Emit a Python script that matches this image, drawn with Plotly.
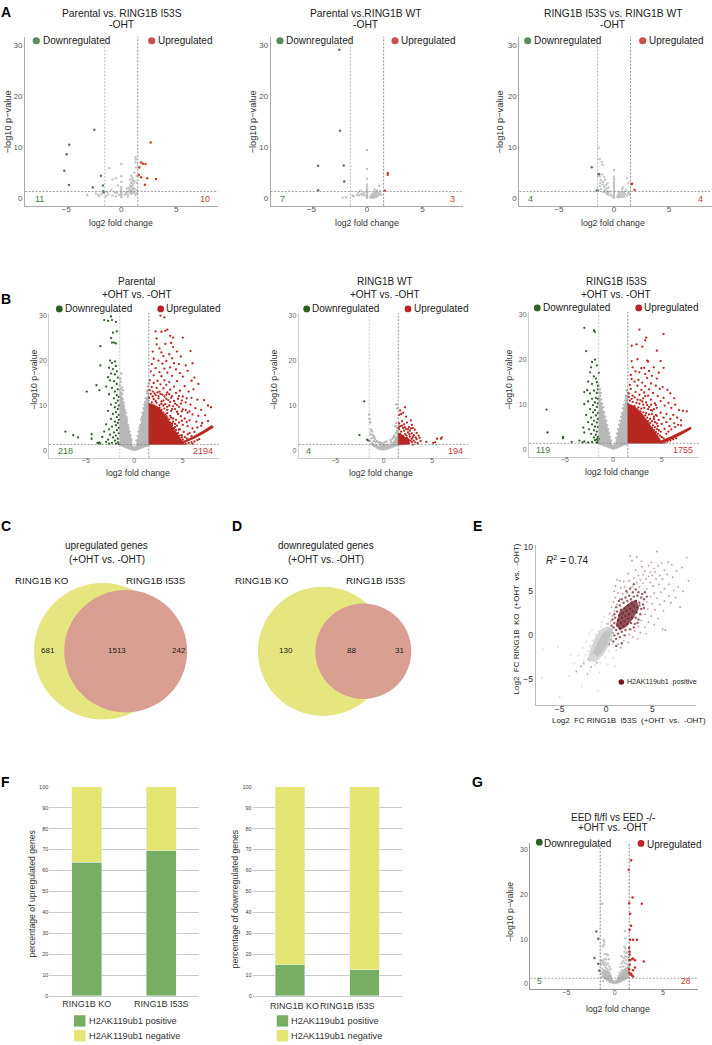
import plotly.graph_objects as go

W = 712
H = 1045
FONT = "Liberation Sans, Arial, sans-serif"

# --- volcano data (log2 fold change, -log10 p) ---
a1_down = [(-2.45,13.4),(-4.73,10.45),(-4.97,8.6),(-5.18,5.4),(-4.76,2.6),(-1.85,4.4),(-2.6,2.1),(-1.67,2.5),(-1.65,1.35),(-1.6,1.2)]
a1_up = [(2.67,10.9),(1.79,7.0),(1.97,6.75),(2.2,6.7),(1.64,6.0),(1.6,4.55),(1.8,4.1),(2.36,3.9),(3.15,3.77),(2.15,2.65)]
a1_ns = [(-3.1,0.6),(-2.3,0.9),(-2.1,0.6),(-2,0.4),(-1.8,0.8),(-1.6,1.1),(-1.4,0.4),(-1.3,1.2),(-1.2,0.7),(-1.1,5.9),(-0.8,3.6),(-0.9,1.6),(-0.8,0.5),(-0.6,1.1),(-0.5,0.4),(-0.4,1.0),(-0.3,2.5),(-0.2,0.6),(-0.5,3.9),(0,0.2),(0,0.5),(0,0.8),(0,1.1),(0,1.4),(0,1.8),(0,2.2),(0,3.2),(0,4.3),(0,6.7),(0.3,0.6),(0.4,0.9),(0.5,1.2),(0.5,1.9),(0.6,0.7),(0.7,1.4),(0.7,2.0),(0.8,1.1),(0.8,1.7),(0.8,2.5),(0.8,3.7),(0.9,0.8),(0.9,1.4),(0.9,2.2),(0.9,3.0),(0.9,4.4),(1,1.0),(1,1.7),(1,2.5),(1,3.4),(1,4.0),(1.1,1.3),(1.1,2.0),(1.1,2.9),(1.1,3.6),(1.2,1.0),(1.2,1.8),(1.2,3.3),(1.2,5.0),(1.3,7.6),(1.3,8.0),(1.3,7.0),(1.35,6.0),(1.4,4.4),(1.4,3.0),(1.4,1.6),(1.45,1.0),(1.3,0.6),(0.6,0.3)]

a2_down = [(-2.5,29.1),(-2.44,13.2),(-4.4,6.35),(-2.1,6.4),(-2.05,3.25),(-4.4,1.55)]
a2_up = [(1.87,4.95),(1.87,4.6),(1.6,1.45)]
a2_ns = [(-2.2,0.1),(-1.9,0.2),(-1.3,0.5),(-1.2,0.4),(-0.9,0.6),(-0.8,1.0),(-0.7,0.5),(-0.6,1.5),(-0.5,0.8),(-0.4,0.6),(-0.3,1.0),(-0.2,0.5),(0,0.1),(0,0.3),(0,0.5),(0,0.7),(0,0.9),(0,1.1),(0,1.3),(0,1.6),(0,1.9),(0,2.3),(0,2.7),(0,3.8),(0,5.7),(0,9.45),(0.3,0.2),(0.35,0.4),(0.4,0.1),(0.4,0.6),(0.45,0.3),(0.5,0.2),(0.5,0.5),(0.5,0.8),(0.55,0.3),(0.6,0.1),(0.6,0.5),(0.6,0.9),(0.65,0.3),(0.7,0.6),(0.7,1.2),(0.7,1.7),(0.75,0.2),(0.8,0.4),(0.8,0.8),(0.85,1.1),(0.9,0.3),(0.9,0.6),(0.9,1.5),(1.0,0.5),(1.0,1.0),(1.1,0.7),(1.1,2.4),(1.2,0.9),(1.2,1.4),(1.3,0.6)]

a3_down = [(-2.03,6.05),(-1.42,4.7),(-1.36,4.75),(-1.46,1.5),(-1.58,1.5)]
a3_up = [(1.64,2.85),(1.6,2.8),(1.88,1.6)]
a3_ns = [(-1.4,9.9),(-1.3,7.7),(-1.1,7.1),(-1.05,6.5),(-1.3,4.3),(-1.2,3.6),(-1.25,3.0),(-1.3,2.4),(-1.2,1.8),(-1.1,4.7),(-1.0,3.2),(-1.05,2.7),(-0.95,1.2),(-0.9,4.2),(-0.9,2.2),(-0.85,1.6),(-0.8,3.6),(-0.75,2.6),(-0.7,1.1),(-0.7,1.9),(-0.65,0.8),(-0.6,2.9),(-0.6,1.4),(-0.55,1.0),(-0.5,2.1),(-0.5,0.6),(-0.4,1.3),(-0.3,0.7),(-0.2,0.4),(0,0.1),(0,0.3),(0,0.6),(0,0.9),(0,1.2),(0,1.5),(0,1.8),(0,2.1),(0,2.4),(0,2.8),(0,3.2),(0,3.7),(0,4.2),(0,5.5),(0.3,0.3),(0.35,0.6),(0.4,0.2),(0.45,0.9),(0.5,0.4),(0.5,1.2),(0.55,0.7),(0.6,0.2),(0.65,0.5),(0.7,1.0),(0.75,1.7),(0.8,0.3),(0.8,2.1),(0.85,0.7),(0.9,1.2),(0.95,0.4),(1.0,0.8),(1.1,1.5),(1.15,3.95),(1.2,0.5),(1.3,1.0),(1.3,3.0),(1.4,0.7)]

b1_down = [(-7.1,4.2),(-6.3,3.4),(-5.8,2.9),(-4.4,3.6),(-4.4,2.6),(-3.8,1.7),(-3.7,1.6),(-3.6,1.8),(-3.5,1.5),(-4.9,13.1),(-3.9,14.5),(-3.6,13.4),(-3.5,18.9),(-3.5,23.2),(-3.1,29),(-2.7,28.8),(-2.4,29.8),(-2.3,29),(-1.9,28.6),(-1.8,26.5),(-2.2,26.2),(-2.4,25),(-2.3,24),(-2.1,24),(-1.9,23.8),(-2.5,20),(-2.3,19.5),(-2,19.8),(-1.9,18.8),(-2.6,18.4),(-2.2,18.1),(-1.8,17.6),(-2.4,17.1),(-2,16.9),(-2.7,16.3),(-1.7,16.2),(-2.5,15.6),(-2.1,15.4),(-1.8,14.8),(-2.9,14.2),(-2.3,13.9),(-1.7,13.6),(-2.0,13.1),(-2.6,12.5),(-1.8,12.3),(-1.6,11.9),(-2.1,11.6),(-1.7,11.1),(-1.9,10.6),(-2.4,10.2),(-1.6,10.0),(-2.0,9.6),(-1.7,9.2),(-2.7,8.8),(-1.9,8.5),(-2.2,8.1),(-1.6,7.9),(-1.8,7.4),(-2.4,7.0),(-1.6,6.8),(-2.0,6.4),(-1.7,6.1),(-2.9,5.8),(-1.9,5.6),(-2.3,5.3),(-1.6,5.0),(-2.6,4.7),(-1.8,4.5),(-3.1,4.2),(-2.1,4.0),(-1.6,3.8),(-2.5,3.5),(-1.9,3.3),(-3.3,3.0),(-2.2,2.9),(-1.7,2.6),(-2.7,2.4),(-2.0,2.2),(-2.9,1.9),(-1.7,1.8),(-2.3,1.7),(-1.9,1.5),(-2.6,1.5),(-1.6,1.4)]
b1_up = [(2.7,30),(3.1,29.6),(2.2,26.5),(2.8,26.4),(3.2,26.6),(3.4,26.9),(3.7,25.5),(2.3,24.9),(4.0,25.1),(5.0,25.1),(2.3,23.6),(3.2,23.7),(3.8,23.9),(2.6,22.7),(1.9,22),(2.8,21.8),(4.0,23),(3.0,21),(3.6,21.4),(4.4,22),(2.0,20.4),(2.5,20),(3.3,19.9),(3.9,20.5),(4.8,20.9),(5.8,22.1),(1.8,19.2),(2.9,19.3),(4.1,19.4),(4.6,19.2),(5.3,18.9),(6.0,19.4),(2.2,18.3),(3.1,18.2),(3.7,18.5),(4.3,18.0),(1.7,17.6),(2.6,17.4),(3.4,17.3),(4.7,17.2),(5.5,17.7),(2.0,16.7),(2.8,16.5),(3.9,16.6),(5.0,16.4),(1.6,15.6),(2.4,15.5),(3.1,15.6),(3.6,15.2),(4.4,15.4),(5.9,15.5),(6.2,16.2),(2.0,15.0),(2.7,14.7),(3.3,14.6),(4.1,14.2),(5.2,14.3),(6.6,14.8),(1.8,14.1),(2.3,13.9),(3.0,13.8),(3.7,13.5),(4.7,13.3),(5.6,13.1),(2.6,13.1),(3.4,12.9),(4.3,12.8),(6.1,13.6),(2.1,12.7),(2.9,12.4),(3.9,12.1),(5.0,12.0),(5.9,11.7),(3.3,11.5),(4.5,11.5),(6.5,11.3),(3.7,10.8),(4.2,10.4),(5.3,10.7),(5.8,10.2),(7.2,11.2),(7.6,10.0),(4.6,9.7),(5.0,9.1),(6.3,9.4),(6.9,9.0),(7.9,9.6),(3.9,9.2),(4.4,8.6),(5.5,8.4),(6.0,8.0),(6.6,7.7),(7.3,7.8),(4.8,7.6),(5.2,7.1),(5.7,6.7),(6.4,6.4),(7.0,6.1),(7.6,6.5),(4.3,6.8),(4.6,6.2),(5.0,5.7),(5.5,5.4),(6.0,4.9),(3.9,6.0),(4.2,5.2),(4.7,4.7),(5.1,4.1),(5.5,3.6),(3.7,7.7),(4.0,7.1),(3.4,9.7),(2.8,10.9)]
b1_up_fringe = [(1.6,13.4),(1.9,13.1),(2.4,12.9),(1.7,12.6),(2.2,12.3),(2.7,12.6),(3.1,12.0),(1.55,11.7),(2.0,11.4),(2.5,11.6),(3.0,11.1),(3.5,11.2),(3.8,11.7),(4.1,11.0),(1.8,10.7),(2.3,10.6),(2.8,10.4),(3.2,10.3),(3.6,10.0),(4.0,9.8),(4.4,10.1),(4.8,10.4),(1.6,9.9),(2.1,9.7),(2.6,9.5),(3.1,9.3),(3.4,9.0),(3.8,8.8),(4.2,9.2),(4.5,8.1),(4.9,8.7),(5.3,9.0),(5.7,8.7),(3.2,8.0),(3.4,7.3),(3.6,6.9),(3.0,8.4),(2.8,9.0),(2.4,9.4),(2.0,9.9),(1.7,9.7),(3.7,6.2),(3.9,5.6),(4.1,5.0),(4.3,4.5),(4.5,3.9),(4.7,3.3),(4.9,2.9),(5.0,2.4),(3.4,8.3),(3.8,7.3),(4.0,6.4),(4.2,5.9),(4.4,5.5),(4.6,4.6),(4.9,3.4),(5.2,3.0),(5.4,2.7),(5.7,3.9),(5.9,3.2),(6.2,4.1),(6.5,5.1),(6.9,5.5),(3.3,7.6),(3.5,6.3),(3.6,5.7),(3.8,5.1),(4.0,4.4),(4.2,3.8),(4.4,3.2),(4.6,2.7),(5.3,1.5),(5.6,1.6),(5.9,1.8),(6.2,2.0),(6.5,2.3),(6.7,2.5),(5.0,1.6),(6.0,1.5),(4.9,6.6),(5.4,6.3),(3.0,10.0),(2.2,11.0),(2.6,10.1),(1.9,12.0),(2.5,12.1),(3.3,12.4),(3.6,12.5),(4.6,12.1),(4.9,11.1),(5.4,11.6)]
b1_ns_shape = [(-1.5,13.2),(-1.3,12.2),(-1.0,9.2),(-0.7,6.0),(-0.45,3.2),(-0.2,1.2),(0,0.7),(0.2,1.2),(0.45,3.5),(0.7,6.4),(1.0,9.3),(1.3,11.8),(1.5,12.9),(1.5,1.1),(1.2,0.9),(0.8,0.5),(0.4,0.15),(0,-0.1),(-0.4,0.15),(-0.8,0.5),(-1.2,0.9),(-1.5,1.1)]
b1_ns_fuzz = [(-1.45,13.6),(-1.4,12.9),(-1.25,12.6),(-1.2,11.5),(-1.1,10.6),(-1.05,9.9),(-0.95,9.0),(-0.9,8.4),(-0.8,7.4),(-0.75,6.8),(-0.65,5.6),(-0.6,5.0),(-0.5,4.2),(-0.4,3.4),(-0.3,2.4),(-1.3,14.0),(-1.2,13.4),(1.45,13.4),(1.35,12.7),(1.2,11.6),(1.15,10.7),(1.05,10.2),(0.95,9.4),(0.85,8.3),(0.8,7.5),(0.7,6.9),(0.6,5.6),(0.55,5.0),(0.45,4.2),(0.35,3.2),(0.25,2.2),(1.4,14.2),(1.3,13.2),(-1.5,14.5),(-1.4,15.3),(1.5,14.9),(-1.45,16.0),(-1.35,17.1)]
b1_up_shape = [(1.5,10.5),(2.0,10.2),(2.6,9.4),(3.1,8.0),(3.5,6.8),(3.9,5.4),(4.3,4.1),(4.7,2.9),(5.0,2.1),(5.2,1.3),(1.5,1.3)]
b1_ray = [(4.6,1.6),(5.2,2.2),(6.0,3.0),(7.0,4.2),(8.0,5.6),(8.15,5.1),(7.0,3.6),(6.0,2.5),(5.2,1.7),(4.8,1.4)]

b2_down = [(-2.0,10.9),(-2.5,3.4),(-1.7,2.4),(-1.6,2.2)]
b2_up = [(2.2,9.6),(1.7,8.9),(2.0,8.4),(1.8,8.1),(1.6,7.9),(2.3,7.5),(2.8,6.7),(1.9,6.5),(2.4,6.2),(1.6,6.0),(2.1,5.8),(2.9,5.7),(3.0,5.0),(1.7,5.4),(2.6,5.2),(2.0,5.0),(2.3,4.8),(1.6,4.7),(3.2,4.6),(2.7,4.4),(2.1,4.4),(3.4,3.9),(1.8,4.2),(2.5,4.0),(2.9,3.8),(2.2,3.6),(3.1,3.4),(3.6,3.3),(2.7,3.1),(2.0,3.2),(3.3,2.9),(2.4,2.8),(3.7,2.8),(2.9,2.6),(3.4,2.5),(2.6,2.3),(3.1,2.2),(1.8,2.5),(2.2,2.2),(3.8,2.1),(2.9,1.9),(2.4,1.6),(2.0,1.5),(3.0,1.3),(4.4,1.9),(5.1,1.7),(5.3,1.8),(5.5,2.6),(5.9,2.6),(6.0,2.9),(1.55,5.1),(1.9,5.5),(2.2,5.2),(2.5,4.7),(2.8,4.9),(1.7,3.7),(2.35,3.3),(2.65,3.6),(3.0,3.0),(1.6,3.3),(1.9,2.9),(2.15,2.7),(2.5,2.5),(2.75,2.2),(3.25,1.8),(3.5,1.6)]
b2_ns = [(-1.5,8.0),(-1.45,7.0),(-1.4,6.2),(-1.3,4.6),(-1.2,4.2),(-1.35,3.6),(-1.1,3.4),(-1.0,3.0),(-0.9,2.6),(-1.25,2.7),(-1.4,2.1),(-0.7,2.1),(-0.5,1.8),(-0.3,1.7),(1.3,10.2),(1.4,9.4),(1.3,6.1),(1.2,5.4),(1.4,5.0),(1.1,3.3),(1.0,3.0),(0.9,2.6),(0.7,2.3),(0.3,2.0),(-1.2,1.6),(-1.0,2.1),(-0.8,1.9),(-0.4,1.4),(-0.15,1.6),(0.1,1.9),(0.45,1.3),(0.75,1.8),(1.25,3.9),(1.4,4.4),(1.45,3.7),(1.2,2.9)]
b2_ns_shape = [(-1.2,1.5),(-0.9,1.4),(-0.5,1.0),(-0.2,1.2),(0,1.6),(0.2,1.4),(0.5,1.0),(0.8,1.4),(1.1,2.2),(1.35,3.0),(1.5,4.0),(1.5,1.2),(1.1,0.8),(0.6,0.35),(0,0.05),(-0.5,0.2),(-1.0,0.8),(-1.4,1.4)]
b2_up_shape = [(1.5,1.2),(1.5,3.8),(1.9,3.5),(2.3,2.8),(2.6,2.2),(2.7,1.4),(2.0,1.2)]

b3_down = [(-6.9,8.8),(-6.8,3.7),(-5.2,2.7),(-5.2,2.4),(-4.3,1.6),(-3.5,1.9),(-3.2,1.5),(-3.0,1.7),(-3.0,27),(-2.8,21.8),(-2.0,26.4),(-1.9,26.1),(-1.9,19.9),(-2.2,19.4),(-2.3,18.2),(-1.7,18.6),(-2.4,17.1),(-1.5,17.0),(-2.0,16.2),(-1.8,15.7),(-2.6,15.0),(-1.7,14.9),(-2.2,14.5),(-1.6,14.1),(-2.7,13.1),(-1.6,13.3),(-2.0,13.0),(-3.0,12.7),(-2.4,12.4),(-1.7,12.5),(-1.8,11.4),(-2.2,11.2),(-1.6,11.2),(-2.6,10.6),(-1.9,10.4),(-3.0,10.0),(-1.6,10.2),(-2.1,9.8),(-1.7,9.4),(-2.4,8.9),(-1.9,8.7),(-2.1,8.2),(-1.6,8.0),(-2.8,7.6),(-1.8,7.5),(-2.3,7.0),(-1.6,6.7),(-2.0,6.3),(-2.6,6.0),(-1.7,5.9),(-2.2,5.5),(-1.9,5.0),(-1.6,4.9),(-3.1,4.8),(-2.5,4.4),(-2.0,4.2),(-1.7,3.9),(-3.0,3.7),(-2.3,3.4),(-1.8,3.2),(-2.0,2.6),(-1.6,2.7),(-1.7,2.2),(-1.9,2.0),(-1.6,1.8),(-1.75,1.5),(-2.2,1.6),(-2.6,1.5),(-1.6,1.4),(-1.5,2.3)]
b3_up = [(2.7,26.6),(5.2,25.6),(3.4,24.8),(3.3,24.2),(1.9,23),(2.4,23.3),(3.0,22.8),(4.5,21.9),(1.9,19.6),(2.5,20),(3.5,19.7),(3.6,19.5),(4.9,19.6),(2.0,18.2),(2.9,18),(3.2,18.1),(4.2,18.2),(5.2,18.1),(2.3,17.3),(2.7,17.1),(3.7,17.4),(4.7,17.0),(1.8,16.5),(3.3,16.7),(4.0,16.3),(1.9,15.6),(2.6,15.4),(3.5,15.8),(4.5,15.7),(2.2,15.0),(3.0,14.8),(3.9,14.6),(1.7,14.3),(2.5,14.1),(3.3,14.0),(4.4,14.1),(5.1,13.8),(1.8,13.4),(2.9,13.2),(3.7,13.3),(4.8,13.4),(5.6,13.2),(2.3,12.7),(3.2,12.6),(4.1,12.5),(5.9,12.4),(2.7,12.1),(3.6,11.9),(4.6,11.8),(5.2,11.4),(6.3,11.3),(3.1,11.3),(3.9,11.0),(4.9,10.7),(5.7,10.3),(3.4,10.4),(4.3,10.2),(5.3,9.7),(6.4,9.9),(6.0,9.2),(3.7,9.4),(4.5,9.2),(6.8,8.7),(7.2,8.5),(4.0,8.6),(4.9,8.1),(5.5,7.8),(6.2,7.6),(6.6,7.0),(7.6,8.4),(4.4,7.6),(5.2,7.0),(5.9,6.7),(7.0,6.4),(4.7,6.5),(5.5,6.0),(6.3,5.8),(4.2,6.7),(5.0,5.6),(5.8,5.1),(4.6,5.1),(5.3,4.5),(4.9,3.9),(3.9,9.9),(3.0,10.6),(1.6,12.4),(2.0,11.9)]
b3_up_fringe = [(1.6,11.6),(1.9,11.2),(2.2,11.5),(2.5,11.0),(2.8,10.9),(3.3,11.8),(1.7,10.8),(2.0,10.5),(2.4,10.3),(2.7,10.1),(3.1,9.9),(3.5,9.8),(1.55,10.0),(1.8,9.7),(2.2,9.6),(2.6,9.3),(2.9,9.0),(3.2,9.2),(3.6,8.9),(3.9,8.7),(4.2,8.9),(4.4,9.8),(2.0,9.1),(2.4,8.8),(2.8,8.4),(3.1,8.2),(3.4,8.0),(3.7,7.7),(4.0,7.8),(4.2,7.2),(4.5,7.4),(3.3,7.5),(3.5,7.0),(3.8,6.7),(4.0,6.2),(4.3,6.0),(4.5,5.7),(3.6,6.3),(3.8,5.8),(4.1,5.3),(4.3,4.9),(4.5,4.5),(4.7,4.2),(4.0,4.7),(4.2,4.2),(4.4,3.8),(4.6,3.4),(4.8,3.0),(5.0,2.7),(5.2,2.4),(5.5,3.4),(5.7,3.9),(6.0,4.4),(6.4,4.9),(6.7,5.4),(7.0,5.3),(5.3,1.5),(5.6,1.7),(5.9,1.9),(6.2,2.2),(6.5,2.4),(5.1,1.7),(5.4,2.0)]
b3_ns_shape = [(-1.5,11.8),(-1.3,10.6),(-1.0,8.0),(-0.7,5.4),(-0.45,3.0),(-0.2,1.2),(0,0.8),(0.2,1.2),(0.45,3.4),(0.7,5.8),(1.0,8.4),(1.3,10.8),(1.5,11.2),(1.5,1.1),(1.2,0.9),(0.8,0.5),(0.4,0.2),(0,-0.1),(-0.4,0.2),(-0.8,0.5),(-1.2,0.9),(-1.5,1.1)]
b3_ns_fuzz = [(-1.45,12.6),(-1.35,11.8),(-1.25,11.1),(-1.15,10.1),(-1.05,9.3),(-0.95,8.2),(-0.85,7.2),(-0.75,6.3),(-0.65,5.3),(-0.55,4.4),(-0.45,3.6),(-0.35,2.7),(-0.25,1.9),(-1.4,13.3),(-1.3,12.5),(-1.5,14.1),(1.45,11.9),(1.35,11.4),(1.25,10.9),(1.1,9.8),(1.0,9.1),(0.9,8.0),(0.8,7.2),(0.7,6.3),(0.6,5.4),(0.5,4.4),(0.4,3.5),(0.3,2.5),(1.5,12.6),(1.4,13.1),(1.3,11.9)]
b3_up_shape = [(1.5,10.0),(2.0,9.7),(2.5,9.0),(3.0,7.8),(3.5,6.3),(4.0,4.7),(4.5,3.1),(4.9,2.0),(5.2,1.3),(1.5,1.3)]
b3_ray = [(4.7,1.5),(5.3,2.2),(6.0,2.8),(7.0,3.8),(8.0,4.9),(8.05,4.5),(7.0,3.2),(6.0,2.2),(5.3,1.6),(4.9,1.3)]

g_down = [(-1.9,11.7),(-1.7,10.1),(-2.1,5.8),(-1.7,4.5),(-1.6,3.0)]
g_up = [(1.7,27.6),(1.45,25.5),(1.85,19.3),(1.5,18),(2.8,17.9),(1.6,15.7),(1.7,13),(1.55,12.1),(1.6,9.9),(1.9,9.9),(2.3,9.9),(1.5,8.1),(1.55,7.2),(1.55,6.6),(1.5,5.4),(1.6,5.3),(1.8,5.6),(1.9,5.7),(2.1,5.3),(3.0,5.0),(1.55,4.3),(2.1,3.7),(1.5,3.3),(1.9,3.1),(1.5,2.5),(1.7,2.3),(1.6,2.1),(1.8,1.9),(1.9,1.7)]
g_ns = [(-1.3,17.9),(-1.15,9.9),(-1.1,9.5),(-1.1,8.9),(-1.2,8.4),(-1.0,6.7),(-0.8,6.6),(-0.7,6.4),(-1.4,5.3),(-1.2,5.2),(-1.05,5.6),(-0.9,5.5),(-0.6,5.5),(-1.4,4.3),(-1.3,3.4),(-1.4,2.4),(-1.3,1.6),(-1.2,0.7),(1.05,11.8),(1.0,8.3),(1.1,7.9),(1.0,7.2),(1.2,6.9),(0.7,6.2),(1.1,10.2),(-1.35,4.9),(-1.2,4.6),(-1.1,4.2),(-1.0,4.8),(-0.95,3.7),(-0.85,4.3),(-0.75,3.4),(-0.7,4.6),(-0.65,2.9),(-0.55,3.9),(-0.5,2.4),(-0.45,3.3),(-0.4,1.8),(-1.25,2.8),(-1.1,3.1),(-0.95,2.4),(-0.8,2.1),(-1.15,1.9),(0.5,2.6),(0.6,3.8),(0.7,4.6),(0.75,3.1),(0.85,5.1),(0.9,3.9),(0.95,5.8),(1.05,4.7),(1.1,6.2),(1.15,5.3),(1.25,4.4),(1.3,5.9),(1.35,7.2),(1.4,6.1),(1.45,5.1),(0.45,1.9),(0.35,1.4)]
g_ns_shape = [(-1.2,3.0),(-0.9,3.2),(-0.6,2.6),(-0.4,1.6),(-0.2,0.9),(0,0.7),(0.2,0.9),(0.4,1.4),(0.6,2.4),(0.9,3.2),(1.2,3.8),(1.45,4.2),(1.45,1.4),(1.0,0.9),(0.5,0.3),(0,0.05),(-0.5,0.3),(-1.0,1.0),(-1.3,1.8)]

# --- panel E ---
e_pos = [(5.5,9.5),(2.6,9.0),(3.3,8.9),(8.7,8.8),(2.8,8.5),(3.8,8.4),(4.9,8.3),(6.0,8.2),(6.7,8.3),(3.9,7.8),(4.6,7.9),(5.2,7.6),(5.6,7.9),(7.1,8.0),(8.2,7.7),(3.2,7.4),(4.2,7.3),(4.8,7.2),(5.3,7.2),(6.3,7.4),(7.6,7.3),(2.4,7.0),(3.5,6.8),(4.0,6.9),(4.6,6.7),(5.0,6.8),(5.8,6.8),(6.6,6.9),(3.0,6.5),(3.7,6.3),(4.3,6.4),(5.4,6.4),(6.1,6.4),(7.2,6.6),(1.2,6.3),(1.5,6.2),(1.9,6.1),(2.5,6.2),(8.9,6.2),(3.3,6.0),(4.0,5.9),(4.8,6.0),(5.1,5.6),(5.7,5.8),(6.8,5.8),(7.8,5.5),(1.0,5.6),(1.6,5.4),(2.0,5.5),(2.8,5.5),(3.6,5.5),(4.4,5.3),(6.3,5.3),(7.3,5.1),(8.3,5.0),(0.9,5.0),(1.3,4.8),(1.8,4.7),(2.3,4.8),(5.2,4.8),(5.9,4.9),(6.8,4.5),(7.5,4.3),(1.0,4.3),(1.5,4.1),(4.8,4.4),(5.5,4.2),(6.3,3.9),(7.0,3.7),(0.8,3.8),(1.2,3.5),(4.4,3.8),(5.0,3.6),(5.8,3.5),(8.0,3.2),(0.6,3.2),(0.9,2.8),(4.5,3.0),(5.3,2.9),(6.2,2.8),(0.4,2.5),(0.7,2.2),(4.2,2.4),(4.9,2.2),(5.6,1.9),(0.5,1.6),(3.8,1.7),(4.6,1.5),(5.2,1.2),(0.2,1.3),(0.3,0.8),(3.5,1.0),(4.2,0.9),(6.1,0.7),(6.4,0.6),(3.1,0.5),(3.7,0.3),(4.3,0.2),(0.1,-0.2),(2.5,0.1),(2.9,-0.2),(3.4,-0.4),(1.9,-0.6),(2.4,-0.8),(1.3,-1.0),(1.6,-1.4),(-0.9,-1.2),(-1.5,-2.1),(-1.9,-2.7),(-2.4,-3.2),(-2.7,-3.5),(-3.2,-4.1),(-0.6,-2.0),(-1.0,-3.1),(-1.6,-3.6),(-2.0,-4.4)]
e_pos_dense = [(1.4,3.9),(1.7,4.1),(2.1,4.3),(2.5,4.5),(2.9,4.9),(3.2,5.2),(3.5,4.9),(3.9,4.7),(4.2,4.9),(1.1,3.2),(1.5,3.4),(1.9,3.7),(2.3,3.9),(2.7,4.1),(3.0,4.4),(3.4,4.5),(3.8,4.3),(4.1,4.1),(4.4,4.4),(0.9,2.4),(1.2,2.7),(1.6,2.9),(2.0,3.1),(2.4,3.4),(2.8,3.6),(3.2,3.9),(3.6,3.7),(4.0,3.5),(0.7,1.8),(1.0,2.0),(1.4,2.3),(1.8,2.5),(2.2,2.8),(2.6,3.0),(3.0,3.3),(3.4,3.2),(3.8,3.0),(4.1,3.1),(0.6,1.1),(0.9,1.4),(1.3,1.7),(1.7,2.0),(2.1,2.2),(2.5,2.4),(2.9,2.7),(3.3,2.6),(3.7,2.4),(0.5,0.6),(0.8,0.9),(1.2,1.1),(1.6,1.4),(2.0,1.6),(2.4,1.9),(2.8,2.0),(3.2,2.0),(3.5,1.8),(0.7,0.3),(1.1,0.6),(1.5,0.8),(1.9,1.1),(2.3,1.3),(2.7,1.4),(3.1,1.3),(3.4,1.4),(0.9,0.0),(1.3,0.2),(1.7,0.4),(2.1,0.6),(2.6,0.7),(3.0,0.9),(1.1,-0.4),(1.5,-0.2),(2.0,0.0),(0.5,-0.5),(0.8,-0.7),(1.7,-0.9),(3.6,3.4),(2.2,5.0),(2.6,5.3),(3.0,5.8),(1.1,-1.2),(0.3,-1.0)]
e_neg = [(-6.8,-1.6),(-5.2,-1.3),(-6.9,-4.8),(-5.0,-7.0),(-2.6,-5.8),(-0.9,-6.3),(-3.4,-3.2),(-3.0,-2.3),(-2.5,-1.4),(-2.1,-0.7),(-1.8,0.2),(-1.5,0.6),(-0.4,1.5),(-0.2,2.1),(0.4,2.3),(-3.8,-2.2),(-1.7,-4.0),(-0.7,-4.2),(0.2,-3.3),(0.8,-2.6),(1.1,-1.7),(-4.0,-4.6),(1.0,-3.5),(-2.4,-2.9),(-2.2,-2.2),(-1.9,-1.8),(-1.7,-1.2),(-1.4,-0.6),(-1.1,0.1),(-0.8,0.5),(-0.5,1.0),(0.0,1.3),(0.5,1.3),(0.9,0.8),(1.0,-0.4),(0.7,-1.0),(0.3,-1.8),(-0.1,-2.5),(-0.6,-3.1),(-1.2,-3.4),(-1.8,-3.0)]
e_pos_core = [(1.1,1.2),(1.5,2.7),(2.0,3.2),(2.7,3.8),(3.3,4.0),(3.5,3.0),(2.9,1.9),(2.2,1.0),(1.5,0.6)]
e_neg_outer = [(-2.0,-2.8),(-1.6,-1.4),(-1.1,-0.2),(-0.6,0.6),(0.1,1.0),(0.7,0.7),(0.7,-0.1),(0.2,-1.3),(-0.4,-2.3),(-1.2,-3.0)]
e_neg_core = [(-1.4,-2.0),(-0.9,-0.8),(-0.4,0.1),(0.1,0.6),(0.5,0.3),(0.2,-0.8),(-0.3,-1.7),(-0.9,-2.4)]

# --- panel F ---
f_categories = ["RING1B KO", "RING1B I53S"]
f_up_positive = [64, 69.5]
f_down_positive = [15, 12.5]
f_legend = ["H2AK119ub1 positive", "H2AK119ub1 negative"]

# --- text ---
volcano_titles = {
    "a1": ("Parental vs. RING1B I53S", "-OHT"),
    "a2": ("Parental vs.RING1B WT", "-OHT"),
    "a3": ("RING1B I53S vs. RING1B WT", "-OHT"),
}


def xs(pairs):
    return [p[0] for p in pairs]


def ys(pairs):
    return [p[1] for p in pairs]


fig = go.Figure()
annotations = []
shapes = []
axis_count = 1  # start at 2, shapes can't refer to "y1"


def text(x, y, s, size=9, color="#222222", anchor="center", angle=0):
    annotations.append(dict(
        x=x / W, y=1 - y / H, xref="paper", yref="paper", text=s, showarrow=False,
        xanchor=anchor, yanchor="middle", textangle=angle, borderpad=0,
        font=dict(size=size, color=color, family=FONT),
    ))


def dot(x, y, r, color):
    shapes.append(dict(
        type="circle", xref="paper", yref="paper", fillcolor=color, line=dict(width=0),
        x0=(x - r) / W, x1=(x + r) / W, y0=1 - (y + r) / H, y1=1 - (y - r) / H,
    ))


def add_axes(left, right, top, bottom, x0, sx, y0, sy, xticks, yticks, line_color, tick_color, tick_size):
    # x0/y0 are the pixel positions of zero, sx/sy pixels per unit
    global axis_count
    axis_count += 1
    n = axis_count
    common = dict(showgrid=False, zeroline=False, showline=True, linecolor=line_color, linewidth=1,
                  ticks="", tickfont=dict(size=tick_size, color=tick_color, family=FONT))
    fig.update_layout(**{
        f"xaxis{n}": dict(domain=[left / W, right / W], range=[(left - x0) / sx, (right - x0) / sx],
                          anchor=f"y{n}", tickvals=xticks, ticklabelstandoff=-4,
                          ticktext=[str(t).replace("-", "\u2212") for t in xticks], **common),
        f"yaxis{n}": dict(domain=[1 - bottom / H, 1 - top / H], range=[(y0 - bottom) / sy, (y0 - top) / sy],
                          anchor=f"x{n}", tickvals=yticks,
                          ticktext=[str(t).replace("-", "\u2212") for t in yticks], **common),
    })
    return f"x{n}", f"y{n}"


def points(pairs, ax, color, size=2.5):
    fig.add_trace(go.Scatter(x=xs(pairs), y=ys(pairs), mode="markers", xaxis=ax[0], yaxis=ax[1],
                             marker=dict(size=size, color=color, line=dict(width=0)), showlegend=False))


def blob(pairs, ax, color):
    fig.add_trace(go.Scatter(x=xs(pairs) + [pairs[0][0]], y=ys(pairs) + [pairs[0][1]], mode="lines", fill="toself",
                             fillcolor=color, line=dict(width=0.6, color=color), xaxis=ax[0], yaxis=ax[1],
                             showlegend=False))


def guides(ax, color_left, color_right):
    for xv, c in ((-1.5, color_left), (1.5, color_right)):
        shapes.append(dict(type="line", xref=ax[0], yref=f"{ax[1]} domain", x0=xv, x1=xv, y0=0, y1=1,
                           line=dict(color=c, width=0.8, dash="2px,1.5px")))
    shapes.append(dict(type="line", xref=f"{ax[0]} domain", yref=ax[1], x0=0, x1=1, y0=1.3, y1=1.3,
                       line=dict(color="#888888", width=0.8, dash="2px,1.5px")))


GREY = "rgba(188,188,188,0.85)"
GREEN_A, RED_A = "#4f7f4f", "#c8402f"
GREEN_B, RED_B = "#33612c", "#b7271f"
GREY_BLOB = "#b8b8b8"

XT = [-5, 0, 5]
YT = [0, 10, 20, 30]

# panel A
a_spec = [
    (25, 218, 121.3, 11.0, a1_ns, a1_down, a1_up, volcano_titles["a1"], 122, 8, 121, 36.3, 41.7, 151.7, 156.7, "11", 39, "10", 205),
    (270.7, 463, 367, 11.1, a2_ns, a2_down, a2_up, volcano_titles["a2"], 366, 253, 367, 280, 285, 395, 400.3, "7", 282, "3", 452),
    (519.3, 711.5, 614, 11.0, a3_ns, a3_down, a3_up, volcano_titles["a3"], 613, 500, 613, 527.7, 532.7, 642.7, 647.7, "4", 530, "4", 700),
]
for l, r, x0, sx, ns, down, up, title, tx, ylx, xlx, dd, dt, ud, ut, nd, ndx, nu, nux in a_spec:
    ax = add_axes(l, r, 34, 204, x0, sx, 196.3, 5.13, XT, YT, "#aaaaaa", "#555555", 8)
    guides(ax, "#aaaaaa", "#777777")
    points(ns, ax, GREY)
    points(down, ax, GREEN_A)
    points(up, ax, RED_A)
    text(tx, 10.7, title[0], size=10.3)
    text(tx, 21.3, title[1], size=10.3)
    text(ylx, 120, "\u2212log10 p\u2212value", size=9.2, color="#333333", angle=-90)
    text(xlx, 221.7, "log2 fold change", size=8.7, color="#333333")
    dot(dd, 38, 3.6, "#5a8a5e")
    text(dt, 38, "Downregulated", size=10, anchor="left")
    dot(ud, 38, 3.6, "#c9504f")
    text(ut, 38, "Upregulated", size=10, anchor="left")
    text(ndx, 197, nd, size=9, color="#3f7a3c")
    text(nux, 197, nu, size=9, color="#c8402f")

# panel B
b_spec = [
    (49.3, 218.7, 134.3, 9.7, 311.7, 457.3, 450, 4.52, b1_ns_shape, b1_ns_fuzz, b1_up_shape, b1_ray, b1_down, b1_up + b1_up_fringe,
     ("Parental", "+OHT vs. -OHT"), 136.7, 34, 138, 59.3, 63.7, 160.7, 165, "218", 65, "2194", 203.3),
    (298.7, 467.7, 383.7, 9.7, 311.7, 457.3, 450, 4.52, b2_ns_shape, b2_ns, b2_up_shape, None, b2_down, b2_up,
     ("RING1B WT", "+OHT vs. -OHT"), 385, 274, 381, 306.7, 311.3, 408, 412.7, "4", 308, "194", 455),
    (529, 698.7, 613.3, 9.67, 310.7, 456.7, 448.7, 4.52, b3_ns_shape, b3_ns_fuzz, b3_up_shape, b3_ray, b3_down, b3_up + b3_up_fringe,
     ("RING1B I53S", "+OHT vs. -OHT"), 616, 509, 616.7, 537.3, 541.7, 638.7, 643.3, "119", 543, "1755", 683.3),
]
for l, r, x0, sx, t, b, y0, sy, ns_shape, ns, up_shape, ray, down, up, title, tx, ylx, xlx, dd, dt, ud, ut, nd, ndx, nu, nux in b_spec:
    ax = add_axes(l, r, t, b, x0, sx, y0, sy, XT, YT, "#cccccc", "#666666", 7)
    guides(ax, "#bbbbbb", "#777777")
    blob(ns_shape, ax, GREY_BLOB)
    points(ns, ax, GREY_BLOB)
    blob(up_shape, ax, RED_B)
    if ray:
        blob(ray, ax, RED_B)
    points(down, ax, GREEN_B, 2.3)
    points(up, ax, RED_B, 2.3)
    text(tx, 280.5, title[0], size=10)
    text(tx, 293, title[1], size=10)
    text(ylx, 379, "\u2212log10 p\u2212value", size=8.8, color="#333333", angle=-90)
    text(xlx, t + 161.5, "log2 fold change", size=8.7, color="#333333")
    dot(dd, t - 4, 3.4, "#2f5e27")
    text(dt, t - 4, "Downregulated", size=10, anchor="left")
    dot(ud, t - 4, 3.4, "#b9242a")
    text(ut, t - 4, "Upregulated", size=10, anchor="left")
    text(ndx, y0 + 0.7, nd, size=9, color="#3f7a3c")
    text(nux, y0 + 0.7, nu, size=9, color="#c04038")

# panels C and D, the Venn circles
YELLOW, PINK = "#e5e67f", "#d99f92"
dot(102.7, 652, 68.7, YELLOW)
dot(125.7, 652, 61.5, PINK)
dot(322.9, 652, 65, YELLOW)
dot(363.3, 652, 48, PINK)
text(106, 545.3, "upregulated genes", size=10)
text(107, 560, "(+OHT vs. -OHT)", size=10)
text(325.7, 545.3, "downregulated genes", size=10)
text(326, 560, "(+OHT vs. -OHT)", size=10)
text(41.7, 580.7, "RING1B KO", size=9.8)
text(156, 580.7, "RING1B I53S", size=9.8)
text(262, 580.7, "RING1B KO", size=9.8)
text(375.7, 580.7, "RING1B I53S", size=9.8)
for x, s in ((48, "681"), (117, "1513"), (178.7, "242"), (286, "130"), (351, "88"), (399, "31")):
    text(x, 651.3, s, size=8)

# panel E
ax = add_axes(535.7, 696, 545, 706, 606, 9.27, 636, 8.86, XT, [-5, 0, 5, 10], "#bbbbbb", "#333333", 8.5)
points(e_neg, ax, "rgba(190,190,190,0.55)", 1.9)
points(e_pos, ax, "rgba(130,45,55,0.45)", 1.9)
points(e_pos_dense, ax, "rgba(110,25,35,0.7)", 2.4)
blob(e_pos_core, ax, "rgba(105,25,35,0.75)")
blob(e_neg_outer, ax, "rgba(205,205,205,0.8)")
blob(e_neg_core, ax, "#c2c2c2")
text(545, 560.7, "<i>R</i><sup>2</sup> = 0.74", size=10, anchor="left")
dot(621.3, 683, 2.8, "#701a22")
text(625.7, 683, "H2AK119ub1\u00a0\u00a0positive", size=7.1, anchor="left")
text(629, 722, "Log2\u00a0\u00a0FC RING1B\u00a0\u00a0I53S\u00a0\u00a0(+OHT\u00a0\u00a0vs.\u00a0\u00a0-OHT)", size=7.9)
text(516, 620, "Log2\u00a0\u00a0FC RING1B\u00a0\u00a0KO\u00a0\u00a0(+OHT\u00a0\u00a0vs.\u00a0\u00a0-OHT)", size=8, angle=-90)

# panel F
BAR_GREEN, BAR_YELLOW = "#78ae63", "#e4e673"
f_spec = [
    (49.3, 198.7, f_up_positive, "percentage of upregulated genes", 31.7, 896, 74, 88),
    (252.7, 401.7, f_down_positive, "percentage of downregulated genes", 235.3, 901.3, 276.7, 290.3),
]
bar_n = 0
for l, r, positive, ylabel, ylx, yly, sq, lt in f_spec:
    axis_count += 1
    n = axis_count
    bar_n += 1
    fig.add_trace(go.Bar(x=f_categories, y=positive, marker=dict(color=BAR_GREEN), width=0.4, showlegend=False,
                         xaxis=f"x{n}", yaxis=f"y{n}"))
    fig.add_trace(go.Bar(x=f_categories, y=[100 - v for v in positive], marker=dict(color=BAR_YELLOW), width=0.4,
                         showlegend=False, xaxis=f"x{n}", yaxis=f"y{n}"))
    fig.update_layout(**{
        f"xaxis{n}": dict(domain=[l / W, r / W], anchor=f"y{n}", range=[-0.5, 1.5], showline=True,
                          linecolor="#cccccc", linewidth=1.2, ticks="", showticklabels=bar_n == 1, tickangle=0,
                          ticklabelstandoff=-1, tickfont=dict(size=9, color="#333333", family=FONT)),
        f"yaxis{n}": dict(domain=[1 - 998.7 / H, 1 - 788.3 / H], anchor=f"x{n}", range=[0, 100], dtick=10,
                          gridcolor="#cccccc", gridwidth=1.2, zeroline=False, showline=False, ticks="",
                          tickfont=dict(size=5.5, color="#444444", family=FONT)),
    })
    text(ylx, yly, ylabel, size=8.7, color="#333333", angle=-90)
    for name, color, y in zip(f_legend, (BAR_GREEN, BAR_YELLOW), (1023.8, 1038.7)):
        shapes.append(dict(type="rect", xref="paper", yref="paper", fillcolor=color, line=dict(width=0),
                           x0=sq / W, x1=(sq + 11.5) / W, y0=1 - (y + 5.7) / H, y1=1 - (y - 5.7) / H))
        text(lt, y, name, size=9.2, color="#333333", anchor="left")
text(294, 1008.5, f_categories[0], size=9, color="#333333")
text(347.5, 1008.5, f_categories[1], size=9, color="#333333")

# panel G
ax = add_axes(530.3, 697.7, 845, 992, 614.7, 9.67, 986.7, 4.51, XT, YT, "#999999", "#555555", 7)
guides(ax, "#666666", "#666666")
blob(g_ns_shape, ax, GREY_BLOB)
points(g_ns, ax, GREY)
points(g_down, ax, GREEN_A)
points(g_up, ax, "#cc2b2b")
text(612.7, 819, "EED fl/fl vs EED -/-", size=10)
text(612.7, 829, "+OHT vs. -OHT", size=10)
text(510, 914.3, "\u2212log10 p\u2212value", size=8.8, color="#333333", angle=-90)
text(618, 1012, "log2 fold change", size=8.7, color="#333333")
dot(539.3, 844, 3.4, "#2f5e27")
text(542.7, 845, "Downregulated", size=10, anchor="left")
dot(641, 845.3, 3.4, "#b9242a")
text(645.7, 846, "Upregulated", size=10, anchor="left")
text(539.7, 983.7, "5", size=8.5, color="#3f7a3c")
text(686.3, 983.7, "28", size=8.5, color="#c04038")

# panel letters
for x, y, s in ((6, 9, "A"), (6, 298, "B"), (6, 526, "C"), (237, 526, "D"), (477, 526, "E"), (5, 784, "F"), (477, 783, "G")):
    text(x, y, f"<b>{s}</b>", size=14, color="#000000")

fig.update_layout(
    width=W, height=H, margin=dict(l=0, r=0, t=0, b=0), paper_bgcolor="white", plot_bgcolor="white",
    barmode="stack", showlegend=False, annotations=annotations, shapes=shapes,
)

fig.write_html("out.html", config=dict(displayModeBar=False),
               post_script="document.body.style.margin='0';document.body.style.overflow='hidden';")
